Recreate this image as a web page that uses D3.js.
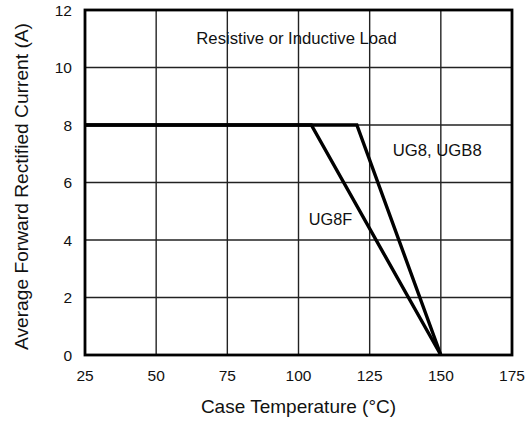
<!DOCTYPE html>
<html>
<head>
<meta charset="utf-8">
<script src="https://cdn.jsdelivr.net/npm/d3@7"></script>
<style>
body{margin:0;background:#fff}
text{font-family:"Liberation Sans",Arial,sans-serif;fill:#111}
</style>
</head>
<body>
<div id="chart"></div>
<script>
// tick values
var xTicks=[25,50,75,100,125,150,175]
var yTicks=[0,2,4,6,8,10,12]

// derating curves (case temp, current)
var ug8Temp=[25,120.5,150]
var ug8Amp=[8,8,0]
var ug8fTemp=[25,104.5,150]
var ug8fAmp=[8,8,0]

var width=527, height=421
var margin={left:85,right:15,top:10,bottom:66}

var svg=d3.select('#chart').append('svg')
    .attr('width',width)
    .attr('height',height)

var x=d3.scaleLinear().domain([25,175]).range([margin.left,width-margin.right])
var y=d3.scaleLinear().domain([0,12]).range([height-margin.bottom,margin.top])

// grid
svg.append('g').selectAll('line')
    .data(xTicks.slice(1,-1))
    .enter().append('line')
    .attr('x1',function(d){return x(d)})
    .attr('x2',function(d){return x(d)})
    .attr('y1',y(0)).attr('y2',y(12))
    .style('stroke','#222').style('stroke-width',1.4)
svg.append('g').selectAll('line')
    .data(yTicks.slice(1,-1))
    .enter().append('line')
    .attr('y1',function(d){return y(d)})
    .attr('y2',function(d){return y(d)})
    .attr('x1',x(25)).attr('x2',x(175))
    .style('stroke','#222').style('stroke-width',1.4)

// frame
svg.append('rect')
    .attr('x',x(25)).attr('y',y(12))
    .attr('width',x(175)-x(25)).attr('height',y(0)-y(12))
    .style('fill','none').style('stroke','#000').style('stroke-width',2.8)

// tick labels
svg.append('g').selectAll('text')
    .data(xTicks)
    .enter().append('text')
    .attr('x',function(d){return x(d)})
    .attr('y',y(0)+26)
    .attr('text-anchor','middle')
    .style('font-size','15.5px')
    .text(function(d){return d})
svg.append('g').selectAll('text')
    .data(yTicks)
    .enter().append('text')
    .attr('x',x(25)-13)
    .attr('y',function(d){return y(d)+5.5})
    .attr('text-anchor','end')
    .style('font-size','15.5px')
    .text(function(d){return d})

// curves
var line=d3.line()
    .x(function(d){return x(d[0])})
    .y(function(d){return y(d[1])})
function pairs(t,a){return t.map(function(v,i){return [v,a[i]]})}
;[pairs(ug8Temp,ug8Amp),pairs(ug8fTemp,ug8fAmp)].forEach(function(p){
    svg.append('path')
	.datum(p)
	.attr('d',line)
	.style('fill','none')
	.style('stroke','#000')
	.style('stroke-width',3.4)
	.style('stroke-linejoin','miter')
})

// labels
svg.append('text')
    .attr('x',x(99.3)).attr('y',y(10.83))
    .attr('text-anchor','middle')
    .style('font-size','16.7px')
    .text('Resistive or Inductive Load')
svg.append('text')
    .attr('x',x(133.1)).attr('y',y(6.92))
    .style('font-size','16.7px')
    .text('UG8, UGB8')
svg.append('text')
    .attr('x',x(103.6)).attr('y',y(4.52))
    .style('font-size','16.3px')
    .text('UG8F')

// axis titles
svg.append('text')
    .attr('x',x(100)).attr('y',height-8)
    .attr('text-anchor','middle')
    .style('font-size','19px')
    .text('Case Temperature (\u00B0C)')
svg.append('text')
    .attr('transform','translate(28,'+(y(6)+4)+') rotate(-90)')
    .attr('text-anchor','middle')
    .style('font-size','19.2px')
    .text('Average Forward Rectified Current (A)')
</script>
</body>
</html>
